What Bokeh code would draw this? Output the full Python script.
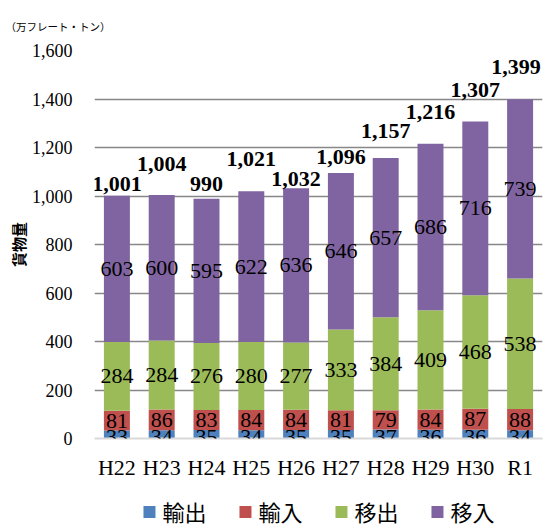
from bokeh.plotting import figure
from bokeh.layouts import column
from bokeh.models import (ColumnDataSource, LabelSet, Legend, LegendItem,
                          NumeralTickFormatter, FixedTicker, Range1d, FactorRange)
from bokeh.embed import file_html
from bokeh.resources import INLINE

# ---- data ----
years = ["H22", "H23", "H24", "H25", "H26", "H27", "H28", "H29", "H30", "R1"]
export_vals = [33, 34, 35, 34, 35, 35, 37, 36, 36, 34]        # 輸出
import_vals = [81, 86, 83, 84, 84, 81, 79, 84, 87, 88]        # 輸入
outbound_vals = [284, 284, 276, 280, 277, 333, 384, 409, 468, 538]  # 移出
inbound_vals = [603, 600, 595, 622, 636, 646, 657, 686, 716, 739]   # 移入
totals = [1001, 1004, 990, 1021, 1032, 1096, 1157, 1216, 1307, 1399]
series_names = ["輸出", "輸入", "移出", "移入"]
y_ticks = [0, 200, 400, 600, 800, 1000, 1200, 1400, 1600]
unit_text = "（万フレート・トン）"

# ---- style ----
colors = ["#4F81BD", "#C0504D", "#9BBB59", "#8064A2"]
series_label_dy = [-3, 0, 0, 0]                              # px
total_label_lift = [12, 31, 15, 32, 9, 16, 27, 32, 32, 32]  # px above bar top
total_label_shift = [0, 0, 0, 0, 0, 0, 0, 0, 0, -4]         # px sideways
SERIF = "Liberation Serif"
CJK = "Noto Sans CJK JP"
W = 550
MAIN_H = 482
LEG_H = 45

keys = ["s0", "s1", "s2", "s3"]
series = [export_vals, import_vals, outbound_vals, inbound_vals]
data = {"year": years}
for k, s in zip(keys, series):
    data[k] = s
src = ColumnDataSource(data)

p = figure(x_range=FactorRange(*years), y_range=Range1d(0, 1600),
           width=W, height=MAIN_H,
           output_backend="svg", toolbar_location=None,
           min_border_left=92, min_border_right=8, min_border_top=50,
           min_border_bottom=MAIN_H - 50 - 388)
p.outline_line_color = None
p.background_fill_color = "white"
p.border_fill_color = "white"

rs = p.vbar_stack(keys, x="year", width=0.58, color=colors, line_color=None,
                  source=src)

# segment labels
cum = [0] * len(years)
for s, dy in zip(series, series_label_dy):
    mids = [c + v / 2 for c, v in zip(cum, s)]
    cum = [c + v for c, v in zip(cum, s)]
    lsrc = ColumnDataSource(dict(x=years, y=mids, t=[str(v) for v in s]))
    p.add_layout(LabelSet(x="x", y="y", text="t", source=lsrc, y_offset=dy,
                          text_align="center", text_baseline="middle",
                          text_font=SERIF, text_font_size="22px",
                          text_color="black"))

# total labels
tsrc = ColumnDataSource(dict(x=years, y=cum, t=[f"{v:,}" for v in totals],
                             dy=total_label_lift, dx=total_label_shift))
p.add_layout(LabelSet(x="x", y="y", text="t", y_offset="dy", x_offset="dx",
                      source=tsrc, text_align="center", text_baseline="middle",
                      text_font=SERIF, text_font_size="22px",
                      text_font_style="bold", text_color="black"))

# unit text as title
p.title.text = unit_text
p.title.align = "left"
p.title.offset = -89
p.title.standoff = 33
p.title.text_font = CJK
p.title.text_font_size = "10.5px"
p.title.text_font_style = "normal"
p.title.text_color = "black"

# axes
p.yaxis.ticker = FixedTicker(ticks=y_ticks)
p.yaxis.formatter = NumeralTickFormatter(format="0,0")
p.yaxis.axis_line_color = None
p.yaxis.major_tick_line_color = None
p.yaxis.minor_tick_line_color = None
p.yaxis.major_label_standoff = 16
p.yaxis.major_label_text_font = SERIF
p.yaxis.major_label_text_font_size = "18px"
p.yaxis.major_label_text_color = "black"
p.yaxis.axis_label = "貨物量"
p.yaxis.axis_label_text_font = CJK
p.yaxis.axis_label_text_font_size = "15px"
p.yaxis.axis_label_text_font_style = "bold"
p.yaxis.axis_label_text_color = "black"
p.yaxis.axis_label_standoff = 0

p.xaxis.axis_line_color = "#D9D9D9"
p.xaxis.axis_line_width = 2
p.xaxis.major_tick_line_color = None
p.xaxis.minor_tick_line_color = None
p.xaxis.major_label_standoff = 10
p.xaxis.major_label_text_font = SERIF
p.xaxis.major_label_text_font_size = "22px"
p.xaxis.major_label_text_color = "black"

p.xgrid.grid_line_color = None
p.ygrid.ticker = FixedTicker(ticks=y_ticks[1:])
p.ygrid.grid_line_color = "#888888"
p.ygrid.grid_line_width = 1.3

# ---- legend strip (key renderers hold no visible data) ----
lf = figure(width=W, height=LEG_H, x_range=Range1d(0, 1), y_range=Range1d(0, 1),
            output_backend="svg", toolbar_location=None,
            min_border_left=94, min_border_right=0, min_border_top=0,
            min_border_bottom=0)
lf.axis.visible = False
lf.grid.visible = False
lf.outline_line_color = None
lf.border_fill_color = "white"
nan = float("nan")
keys_r = [lf.vbar(x=[nan], top=[nan], bottom=[nan], width=0.1, fill_color=c,
                  line_color=None) for c in colors]
legend = Legend(items=[LegendItem(label=n, renderers=[r]) for n, r in zip(series_names, keys_r)],
                orientation="horizontal", location="bottom_center",
                glyph_width=15, glyph_height=15, label_height=22,
                label_standoff=6, spacing=31,
                label_text_font=CJK, label_text_font_size="22px",
                label_text_color="black",
                border_line_color=None, background_fill_alpha=0,
                padding=0, margin=0)
lf.add_layout(legend)

layout = column(p, lf, spacing=0)
open("out.html", "w").write(file_html(layout, INLINE))
